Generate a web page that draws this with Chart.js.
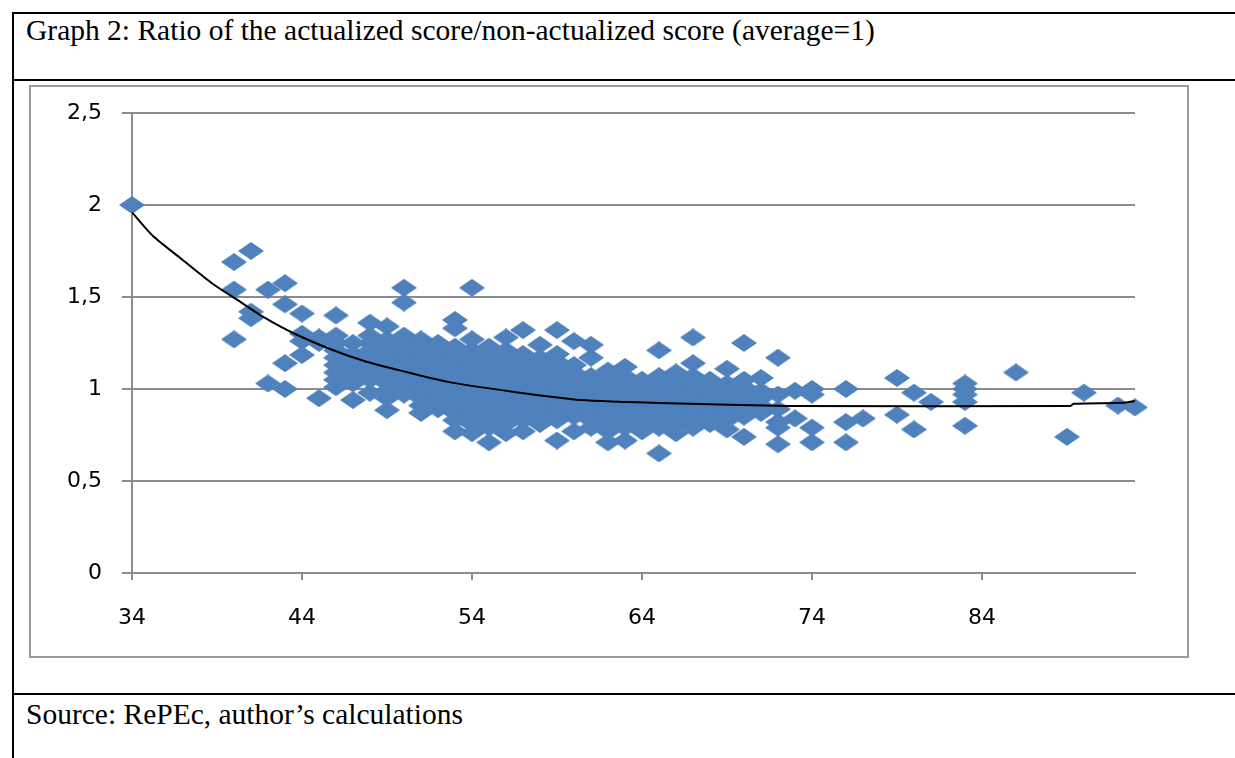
<!DOCTYPE html>
<html>
<head>
<meta charset="utf-8">
<title>Graph 2</title>
<script src="https://cdn.jsdelivr.net/npm/chart.js@4/dist/chart.umd.min.js"></script>
<style>
    html, body { margin: 0; padding: 0; background: #fff; }
    body { position: relative; width: 1235px; height: 758px; overflow: hidden; }
    .rule { position: absolute; background: #000; }
    .cell-text {
        position: absolute;
        left: 26px;
        font-family: "Liberation Serif", "Times New Roman", serif;
        font-size: 29.5px;
        line-height: 29.5px;
        color: #000;
        white-space: nowrap;
    }
    .chart-frame {
        position: absolute;
        left: 29px; top: 85px;
        width: 1156px; height: 569px;
        border: 2px solid #9a9a9a;
    }
    .chart-box {
        position: absolute;
        left: 30px; top: 87px;
        width: 1156px; height: 568px;
    }
</style>
</head>
<body>
    <div class="rule" style="left:12px; top:12px; width:1223px; height:2px;"></div>
    <div class="rule" style="left:12px; top:12px; width:2px; height:746px;"></div>
    <div class="rule" style="left:12px; top:79px; width:1223px; height:2px;"></div>
    <div class="rule" style="left:12px; top:693px; width:1223px; height:2px;"></div>

    <div class="cell-text" style="top:16px;">Graph 2: Ratio of the actualized score/non-actualized score (average=1)</div>
    <div class="chart-frame"></div>
    <div class="chart-box">
        <canvas id="ratioChart" width="1156" height="568"></canvas>
    </div>
    <div class="cell-text" style="top:700px;">Source: RePEc, author’s calculations</div>

<script>
(function(window, document) {
    'use strict';

    // Ages (x) and the ratios observed at each age (y)
    var ages = [34, 40, 41, 42, 43, 44, 45, 46, 47, 48, 49, 50, 51, 52, 53, 54, 55, 56, 57, 58, 59, 60, 61, 62, 63,
        64, 65, 66, 67, 68, 69, 70, 71, 72, 73, 74, 76, 77, 79, 80, 81, 83, 86, 89, 90, 92, 93];

    var ratiosByAge = [
        [2.0],
        [1.69, 1.54, 1.27],
        [1.75, 1.42, 1.385],
        [1.54, 1.03],
        [1.575, 1.46, 1.14, 1.0],
        [1.41, 1.30, 1.26, 1.185],
        [1.28, 1.25, 0.95],
        [1.40, 1.29, 1.25, 1.21, 1.17, 1.13, 1.09, 1.05, 1.01],
        [1.25, 1.19, 1.15, 1.11, 1.07, 1.03, 0.94],
        [1.36, 1.29, 1.25, 1.21, 1.17, 1.13, 1.09, 1.05, 0.98],
        [1.34, 1.27, 1.23, 1.19, 1.15, 1.11, 1.07, 1.03, 0.99, 0.95, 0.885],
        [1.55, 1.47, 1.29, 1.25, 1.21, 1.17, 1.13, 1.09, 1.05, 1.01, 0.97],
        [1.27, 1.23, 1.19, 1.15, 1.11, 1.07, 1.03, 0.99, 0.95, 0.91, 0.87],
        [1.25, 1.21, 1.17, 1.13, 1.09, 1.05, 1.01, 0.97, 0.93, 0.89],
        [1.375, 1.33, 1.23, 1.19, 1.15, 1.11, 1.07, 1.03, 0.99, 0.95, 0.91, 0.87, 0.83, 0.77],
        [1.55, 1.27, 1.21, 1.17, 1.13, 1.09, 1.05, 1.01, 0.97, 0.93, 0.89, 0.85, 0.81, 0.76],
        [1.23, 1.19, 1.15, 1.11, 1.07, 1.03, 0.99, 0.95, 0.91, 0.87, 0.83, 0.79, 0.71],
        [1.28, 1.21, 1.17, 1.13, 1.09, 1.05, 1.01, 0.97, 0.93, 0.89, 0.85, 0.81, 0.76],
        [1.32, 1.19, 1.15, 1.11, 1.07, 1.03, 0.99, 0.95, 0.91, 0.87, 0.83, 0.77],
        [1.24, 1.17, 1.13, 1.09, 1.05, 1.01, 0.97, 0.93, 0.89, 0.85, 0.81],
        [1.32, 1.19, 1.15, 1.11, 1.07, 1.03, 0.99, 0.95, 0.91, 0.87, 0.83, 0.72],
        [1.26, 1.13, 1.09, 1.05, 1.01, 0.97, 0.93, 0.89, 0.85, 0.77],
        [1.24, 1.17, 1.07, 1.03, 0.99, 0.95, 0.91, 0.87, 0.83, 0.79],
        [1.10, 1.05, 1.01, 0.97, 0.93, 0.89, 0.85, 0.81, 0.77, 0.71],
        [1.12, 1.07, 1.03, 0.99, 0.95, 0.91, 0.87, 0.83, 0.79, 0.72],
        [1.05, 1.01, 0.97, 0.93, 0.89, 0.85, 0.81, 0.77],
        [1.21, 1.07, 1.03, 0.99, 0.95, 0.91, 0.87, 0.83, 0.79, 0.65],
        [1.09, 1.05, 1.01, 0.97, 0.93, 0.89, 0.85, 0.81, 0.76],
        [1.28, 1.14, 1.07, 1.03, 0.99, 0.95, 0.91, 0.87, 0.83, 0.79],
        [1.05, 1.01, 0.97, 0.93, 0.89, 0.85, 0.81],
        [1.11, 1.03, 0.99, 0.95, 0.91, 0.87, 0.83, 0.78],
        [1.25, 1.05, 1.01, 0.97, 0.93, 0.89, 0.85, 0.74],
        [1.06, 0.99, 0.95, 0.91, 0.87],
        [1.17, 0.97, 0.89, 0.82, 0.79, 0.70],
        [0.99, 0.84],
        [1.0, 0.97, 0.79, 0.71],
        [1.0, 0.82, 0.71],
        [0.84],
        [1.06, 0.86],
        [0.98, 0.78],
        [0.93],
        [1.03, 1.0, 0.97, 0.93, 0.80],
        [1.09],
        [0.74],
        [0.98],
        [0.91],
        [0.90]
    ];

    // Trend line
    var trendX = [34, 35.25, 37, 38.7, 40.2, 41.7, 43.5, 45.8, 47.8, 49.8, 52.5, 56.4, 60.4, 65.6, 72.6, 89.2, 89.4, 92.3, 93];
    var trendY = [1.96, 1.83, 1.70, 1.575, 1.484, 1.393, 1.303, 1.212, 1.148, 1.10, 1.04, 0.985, 0.94, 0.922, 0.908, 0.908, 0.92, 0.925, 0.935];

    // Axis ticks
    var xTickValues = [34, 44, 54, 64, 74, 84];
    var yMin = 0;
    var yMax = 2.5;
    var yStep = 0.5;

    var axisGrey = '#8c8c8c';
    var markerBlue = '#4f81bd';

    /**
     * Excel style diamond marker, a little wider than it is tall.
     */
    function makeDiamond(w, h, color) {
        var c = document.createElement('canvas');
        c.width = w;
        c.height = h;
        var g = c.getContext('2d');
        g.fillStyle = color;
        g.beginPath();
        g.moveTo(w / 2, 0);
        g.lineTo(w, h / 2);
        g.lineTo(w / 2, h);
        g.lineTo(0, h / 2);
        g.closePath();
        g.fill();
        return c;
    }

    function buildScatter() {
        var points = [];
        ages.forEach(function(age, i) {
            ratiosByAge[i].forEach(function(r) {
                points.push({ x: age, y: r });
            });
        });
        return points;
    }

    function buildTrend() {
        return trendX.map(function(x, i) {
            return { x: x, y: trendY[i] };
        });
    }

    function initChart() {
        var ctx = document.getElementById('ratioChart').getContext('2d');
        var family = '"DejaVu Sans", Verdana, sans-serif';

        new Chart(ctx, {
            type: 'scatter',
            data: {
                datasets: [{
                    type: 'line',
                    data: buildTrend(),
                    borderColor: '#000',
                    borderWidth: 2,
                    pointRadius: 0,
                    fill: false,
                    tension: 0.2,
                    order: 0
                }, {
                    data: buildScatter(),
                    pointStyle: makeDiamond(26, 18, markerBlue),
                    pointRadius: 9,
                    pointHoverRadius: 9,
                    backgroundColor: markerBlue,
                    borderColor: markerBlue,
                    borderWidth: 0,
                    clip: false,
                    order: 1
                }]
            },
            options: {
                responsive: false,
                animation: false,
                devicePixelRatio: 1,
                layout: { padding: { left: 0, right: 51, top: 26, bottom: 0 } },
                plugins: {
                    legend: { display: false },
                    tooltip: { enabled: false }
                },
                scales: {
                    x: {
                        type: 'linear',
                        min: 34,
                        max: 93,
                        afterBuildTicks: function(scale) {
                            scale.ticks = xTickValues.map(function(v) { return { value: v }; });
                        },
                        afterFit: function(scale) { scale.height = 82; },
                        grid: {
                            drawOnChartArea: false,
                            drawTicks: true,
                            tickLength: 7,
                            color: axisGrey,
                            lineWidth: 2
                        },
                        border: { display: true, color: axisGrey, width: 2 },
                        ticks: {
                            color: '#000',
                            font: { family: family, size: 22 },
                            padding: 25,
                            maxRotation: 0,
                            callback: function(v) { return String(v); }
                        }
                    },
                    y: {
                        min: yMin,
                        max: yMax,
                        afterFit: function(scale) { scale.width = 102; },
                        grid: {
                            color: axisGrey,
                            lineWidth: 2,
                            tickLength: 10
                        },
                        border: { display: true, color: axisGrey, width: 2 },
                        ticks: {
                            stepSize: yStep,
                            color: '#000',
                            // small line height keeps the top label from pushing the plot down
                            font: { family: family, size: 22, lineHeight: 0.5 },
                            padding: 20,
                            callback: function(v) { return String(v).replace('.', ','); }
                        }
                    }
                }
            }
        });
    }

    if (document.readyState === 'loading') {
        document.addEventListener('DOMContentLoaded', initChart);
    } else {
        initChart();
    }

})(window, document);
</script>
</body>
</html>
